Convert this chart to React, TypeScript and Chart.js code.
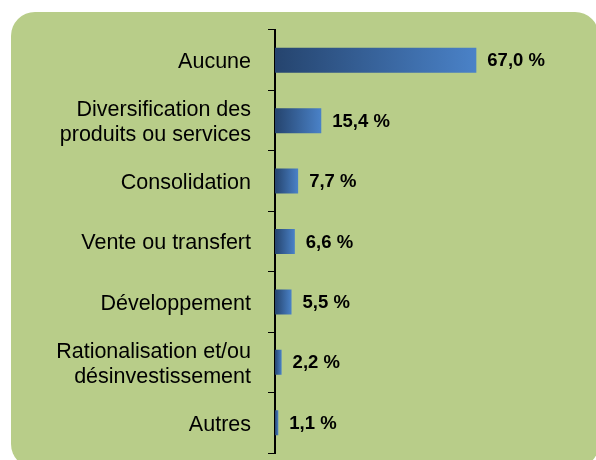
import React, { useEffect, useRef } from "react";
import { Chart, registerables } from "chart.js";

Chart.register(...registerables);

const categories: (string | string[])[] = [
  "Aucune",
  ["Diversification des", "produits ou services"],
  "Consolidation",
  "Vente ou transfert",
  "Développement",
  ["Rationalisation et/ou", "désinvestissement"],
  "Autres",
];
const values: number[] = [67.0, 15.4, 7.7, 6.6, 5.5, 2.2, 1.1];
const valueLabels: string[] = values.map((v) => v.toFixed(1).replace(".", ",") + " %");

const FONT = "'Liberation Sans', Arial, sans-serif";
const PANEL = "#b8cd89";
const BAR_DARK = "#25446e";
const BAR_LIGHT = "#4a82c8";

const panelPlugin = {
  id: "panel",
  beforeDraw(chart: any) {
    const c = chart.ctx;
    c.save();
    c.fillStyle = "#ffffff";
    c.fillRect(0, 0, chart.width, chart.height);
    c.fillStyle = PANEL;
    c.beginPath();
    (c as any).roundRect(11, 12, 588, 456, 24);
    c.fill();
    c.restore();
  },
};

const valueLabelPlugin = {
  id: "valueLabels",
  afterDatasetsDraw(chart: any) {
    const c = chart.ctx;
    const meta = chart.getDatasetMeta(0);
    c.save();
    c.font = `bold 18.5px ${FONT}`;
    c.fillStyle = "#000000";
    c.textAlign = "left";
    c.textBaseline = "middle";
    meta.data.forEach((bar: any, i: number) => {
      c.fillText(valueLabels[i], bar.x + 11, bar.y + 1);
    });
    c.restore();
  },
};

export default function App() {
  const ref = useRef<HTMLCanvasElement | null>(null);

  useEffect(() => {
    if (!ref.current) return;
    const chart = new Chart(ref.current, {
      type: "bar",
      data: {
        labels: categories as any,
        datasets: [
          {
            data: values,
            backgroundColor: (ctx: any) => {
              const ch = ctx.chart;
              if (ctx.type !== "data" || !ch.chartArea || !ch.scales.x) return BAR_LIGHT;
              const xs = ch.scales.x;
              const v = ctx.parsed && typeof ctx.parsed.x === "number" ? ctx.parsed.x : ctx.raw;
              const x0 = xs.getPixelForValue(0);
              const x1 = xs.getPixelForValue(v);
              const g = ch.ctx.createLinearGradient(x0, 0, Math.max(x1, x0 + 1), 0);
              g.addColorStop(0, BAR_DARK);
              g.addColorStop(1, BAR_LIGHT);
              return g;
            },
            borderWidth: 0,
            categoryPercentage: 1,
            barPercentage: 0.414,
          },
        ],
      },
      options: {
        indexAxis: "y",
        animation: false,
        responsive: false,
        maintainAspectRatio: false,
        events: [],
        layout: { padding: { top: 30, bottom: 7, left: 0, right: 20.5 } },
        plugins: {
          legend: { display: false },
          tooltip: { enabled: false },
          title: { display: false },
        },
        scales: {
          x: {
            display: false,
            min: 0,
            max: 100,
          },
          y: {
            afterFit: (scale: any) => {
              scale.width = 275;
              scale.paddingTop = 0;
              scale.paddingBottom = 0;
            },
            grid: {
              display: true,
              drawOnChartArea: false,
              drawTicks: true,
              tickLength: 7,
              color: "#000000",
              lineWidth: 1,
              offset: true,
            },
            border: { display: true, color: "#000000", width: 2 },
            ticks: {
              color: "#000000",
              padding: 17,
              labelOffset: 2,
              font: { family: FONT, size: 21.5, lineHeight: 1.15 },
              autoSkip: false,
            },
          },
        },
      },
      plugins: [panelPlugin, valueLabelPlugin],
    });
    return () => chart.destroy();
  }, []);

  return (
    <div style={{ position: "absolute", left: 0, top: 0, width: 596, height: 460 }}>
      <canvas ref={ref} width={596} height={460} style={{ display: "block", width: 596, height: 460 }} />
    </div>
  );
}
